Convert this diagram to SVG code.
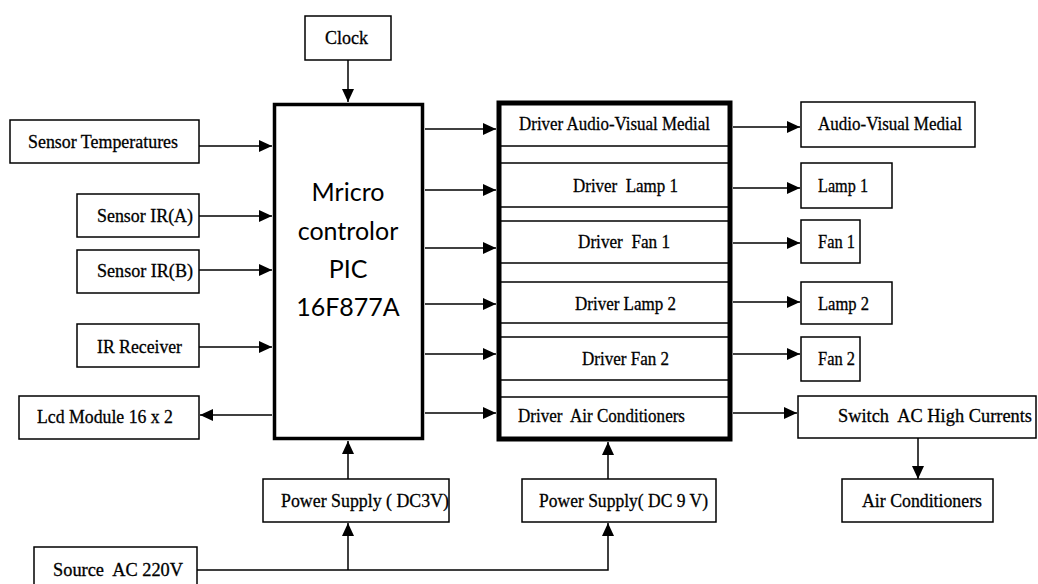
<svg xmlns="http://www.w3.org/2000/svg" width="1038" height="584" viewBox="0 0 1038 584">
<style>
.b{fill:#fff;stroke:#000;stroke-width:1.5}
.t{font-family:"Liberation Serif","Times New Roman",serif;font-size:19px;fill:#000;stroke:#000;stroke-width:0.3}
.m{font-family:Lato,"Liberation Sans",sans-serif;font-size:25px;fill:#000;text-anchor:middle}
.c{fill:none;stroke:#000;stroke-width:1.5}
.row{stroke:#000;stroke-width:1.5}
</style>
<defs>
<marker id="ah" markerUnits="userSpaceOnUse" markerWidth="14" markerHeight="12" refX="13" refY="6" orient="auto">
<path d="M0,0 L13,6 L0,12 Z" fill="#000"/>
</marker>
</defs>
<rect width="1038" height="584" fill="#fff"/>

<g id="connectors">
<line class="c" x1="348" y1="60" x2="348" y2="102" marker-end="url(#ah)"/>
<line class="c" x1="199" y1="146" x2="272" y2="146" marker-end="url(#ah)"/>
<line class="c" x1="199" y1="216" x2="272" y2="216" marker-end="url(#ah)"/>
<line class="c" x1="199" y1="270" x2="272" y2="270" marker-end="url(#ah)"/>
<line class="c" x1="199" y1="347" x2="272" y2="347" marker-end="url(#ah)"/>
<line class="c" x1="272" y1="415" x2="200" y2="415" stroke-width="2.5" marker-end="url(#ah)"/>
<line class="c" x1="425" y1="129" x2="496" y2="129" marker-end="url(#ah)"/>
<line class="c" x1="425" y1="190" x2="496" y2="190" marker-end="url(#ah)"/>
<line class="c" x1="425" y1="248" x2="496" y2="248" marker-end="url(#ah)"/>
<line class="c" x1="425" y1="304" x2="496" y2="304" marker-end="url(#ah)"/>
<line class="c" x1="425" y1="354" x2="496" y2="354" marker-end="url(#ah)"/>
<line class="c" x1="425" y1="413" x2="496" y2="413" marker-end="url(#ah)"/>
<line class="c" x1="733" y1="127" x2="800" y2="127" marker-end="url(#ah)"/>
<line class="c" x1="733" y1="188" x2="800" y2="188" marker-end="url(#ah)"/>
<line class="c" x1="733" y1="243" x2="800" y2="243" marker-end="url(#ah)"/>
<line class="c" x1="733" y1="302" x2="800" y2="302" marker-end="url(#ah)"/>
<line class="c" x1="733" y1="354" x2="800" y2="354" marker-end="url(#ah)"/>
<line class="c" x1="733" y1="413" x2="797" y2="413" marker-end="url(#ah)"/>
<line class="c" x1="918" y1="438" x2="918" y2="479" marker-end="url(#ah)"/>
<line class="c" x1="348" y1="479" x2="348" y2="441" marker-end="url(#ah)"/>
<line class="c" x1="608" y1="479" x2="608" y2="442" marker-end="url(#ah)"/>
<polyline class="c" points="197,570 608,570 608,523" marker-end="url(#ah)"/>
<line class="c" x1="348" y1="570" x2="348" y2="523" marker-end="url(#ah)"/>
</g>

<g id="clock"><rect class="b" x="305" y="16" width="86" height="44"/><text class="t" x="325" y="44" textLength="43" lengthAdjust="spacingAndGlyphs">Clock</text></g>
<g id="sensor-temp"><rect class="b" x="10" y="120" width="189" height="43"/><text class="t" x="28" y="148" textLength="150" lengthAdjust="spacingAndGlyphs">Sensor Temperatures</text></g>
<g id="sensor-ira"><rect class="b" x="77" y="194" width="122" height="43"/><text class="t" x="97" y="222" textLength="96" lengthAdjust="spacingAndGlyphs">Sensor IR(A)</text></g>
<g id="sensor-irb"><rect class="b" x="77" y="250" width="122" height="43"/><text class="t" x="97" y="277" textLength="96" lengthAdjust="spacingAndGlyphs">Sensor IR(B)</text></g>
<g id="ir-receiver"><rect class="b" x="77" y="324" width="122" height="43"/><text class="t" x="97" y="353" textLength="85" lengthAdjust="spacingAndGlyphs">IR Receiver</text></g>
<g id="lcd"><rect class="b" x="19" y="396" width="180" height="43"/><text class="t" x="37" y="423" textLength="136" lengthAdjust="spacingAndGlyphs">Lcd Module 16 x 2</text></g>

<g id="mcu"><rect x="274.5" y="104.5" width="148" height="334" fill="#fff" stroke="#000" stroke-width="3.5"/>
<text class="m" x="348" y="201">Mricro</text>
<text class="m" x="348" y="240">controlor</text>
<text class="m" x="348" y="278">PIC</text>
<text class="m" x="348" y="316">16F877A</text>
</g>

<g id="drivers">
<rect x="499" y="103" width="231" height="336" fill="#fff" stroke="#000" stroke-width="5"/>
<g class="row">
<line x1="500" y1="146" x2="729" y2="146"/><line x1="500" y1="163" x2="729" y2="163"/>
<line x1="500" y1="207" x2="729" y2="207"/><line x1="500" y1="221" x2="729" y2="221"/>
<line x1="500" y1="263" x2="729" y2="263"/><line x1="500" y1="282" x2="729" y2="282"/>
<line x1="500" y1="323" x2="729" y2="323"/><line x1="500" y1="337" x2="729" y2="337"/>
<line x1="500" y1="380" x2="729" y2="380"/><line x1="500" y1="397" x2="729" y2="397"/>
</g>
<text class="t" x="519" y="130" textLength="191" lengthAdjust="spacingAndGlyphs">Driver Audio-Visual Medial</text>
<text class="t" x="573" y="192" textLength="105" lengthAdjust="spacingAndGlyphs" xml:space="preserve">Driver  Lamp 1</text>
<text class="t" x="578" y="248" textLength="92" lengthAdjust="spacingAndGlyphs" xml:space="preserve">Driver  Fan 1</text>
<text class="t" x="575" y="310" textLength="101" lengthAdjust="spacingAndGlyphs">Driver Lamp 2</text>
<text class="t" x="582" y="365" textLength="87" lengthAdjust="spacingAndGlyphs">Driver Fan 2</text>
<text class="t" x="518" y="422" textLength="167" lengthAdjust="spacingAndGlyphs" xml:space="preserve">Driver  Air Conditioners</text>
</g>

<g id="av"><rect class="b" x="801" y="102" width="174" height="45"/><text class="t" x="818" y="130" textLength="144" lengthAdjust="spacingAndGlyphs">Audio-Visual Medial</text></g>
<g id="lamp1"><rect class="b" x="801" y="163" width="91" height="45"/><text class="t" x="818" y="192" textLength="50" lengthAdjust="spacingAndGlyphs">Lamp 1</text></g>
<g id="fan1"><rect class="b" x="801" y="220" width="59" height="43"/><text class="t" x="818" y="248" textLength="37" lengthAdjust="spacingAndGlyphs">Fan 1</text></g>
<g id="lamp2"><rect class="b" x="801" y="282" width="91" height="42"/><text class="t" x="818" y="310" textLength="51" lengthAdjust="spacingAndGlyphs">Lamp 2</text></g>
<g id="fan2"><rect class="b" x="801" y="337" width="59" height="44"/><text class="t" x="818" y="365" textLength="37" lengthAdjust="spacingAndGlyphs">Fan 2</text></g>
<g id="switch"><rect class="b" x="798" y="396" width="238" height="42"/><text class="t" x="838" y="422" textLength="194" lengthAdjust="spacingAndGlyphs" xml:space="preserve">Switch  AC High Currents</text></g>
<g id="aircon"><rect class="b" x="842" y="479" width="151" height="43"/><text class="t" x="862" y="507" textLength="120" lengthAdjust="spacingAndGlyphs">Air Conditioners</text></g>
<g id="ps1"><rect class="b" x="263" y="479" width="186" height="43"/><text class="t" x="281" y="507" textLength="168" lengthAdjust="spacingAndGlyphs">Power Supply ( DC3V)</text></g>
<g id="ps2"><rect class="b" x="522" y="479" width="194" height="43"/><text class="t" x="539" y="507" textLength="169" lengthAdjust="spacingAndGlyphs">Power Supply( DC 9 V)</text></g>
<g id="source"><rect class="b" x="34" y="547" width="163" height="50"/><text class="t" x="53" y="576" textLength="130" lengthAdjust="spacingAndGlyphs" xml:space="preserve">Source  AC 220V</text></g>
</svg>
